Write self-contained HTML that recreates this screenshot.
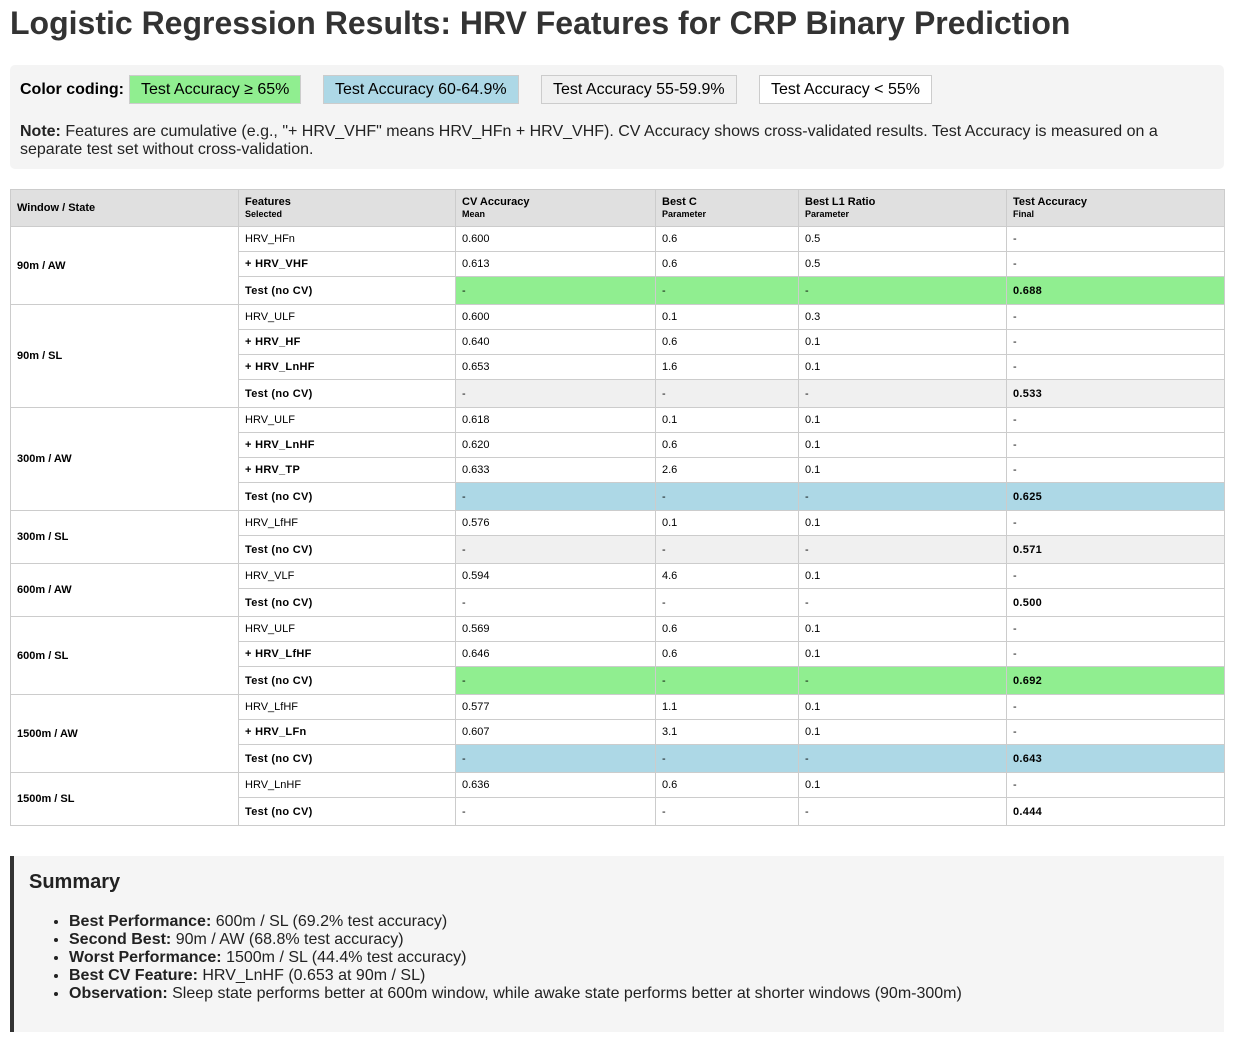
<!DOCTYPE html>
<html><head><meta charset="utf-8">
<style>
body{margin:0;background:#fff;font-family:"Liberation Sans",Arial,sans-serif;color:#000;width:1237px;height:1042px;overflow:hidden;position:relative}
h1{position:absolute;left:10px;top:5px;margin:0;font-size:32px;font-weight:bold;color:#333;white-space:nowrap}
.legend{position:absolute;left:10px;top:65px;width:1214px;height:104px;background:#f4f4f4;border-radius:5px}
.lg-label{position:absolute;left:10px;top:16px;font-size:16px;font-weight:bold}
.badge{position:absolute;top:10px;height:27px;line-height:27px;font-size:16px;padding:0 11px;border:1px solid #ccc;box-sizing:content-box}
.note{position:absolute;left:10px;top:58px;width:1180px;font-size:16px;line-height:18px;color:#222}
table{position:absolute;left:10px;top:189px;border-collapse:collapse;width:1214px;table-layout:fixed;font-size:11px}
td,th{border:1px solid #ccc;padding:0 6px;text-align:left;vertical-align:middle;overflow:hidden;white-space:nowrap}
th{background:#e0e0e0;height:36px;font-weight:bold;font-size:11px;line-height:13px}
th small{font-size:9px;display:block;line-height:11px}
tr.d td{height:24px}
tr.t td{height:27px}
td.win{font-weight:bold;background:#fff}
.tb{font-weight:900;letter-spacing:.3px}
.summary{position:absolute;left:10px;top:856px;width:1210px;height:176px;background:#f5f5f5;border-left:4px solid #333}
.summary h2{position:absolute;left:15px;top:15px;margin:0;font-size:20px;font-weight:bold;color:#222}
.summary ul{position:absolute;left:15px;top:57px;margin:0;padding-left:40px;font-size:16px;line-height:18px;color:#222}
</style></head><body>
<h1>Logistic Regression Results: HRV Features for CRP Binary Prediction</h1>
<div class="legend">
<div class="lg-label">Color coding:</div>
<div class="badge" style="left:119px;background:#90ee90">Test Accuracy ≥ 65%</div>
<div class="badge" style="left:313px;background:#add8e6">Test Accuracy 60-64.9%</div>
<div class="badge" style="left:531px;background:#f0f0f0">Test Accuracy 55-59.9%</div>
<div class="badge" style="left:749px;background:#fff">Test Accuracy &lt; 55%</div>
<div class="note"><b>Note:</b> Features are cumulative (e.g., "+ HRV_VHF" means HRV_HFn + HRV_VHF). CV Accuracy shows cross-validated results. Test Accuracy is measured on a separate test set without cross-validation.</div>
</div>
<table id="tbl">
<colgroup><col style="width:228px"><col style="width:217px"><col style="width:200px"><col style="width:143px"><col style="width:208px"><col style="width:218px"></colgroup>
<thead><tr>
<th>Window / State</th>
<th>Features<small>Selected</small></th>
<th>CV Accuracy<small>Mean</small></th>
<th>Best C<small>Parameter</small></th>
<th>Best L1 Ratio<small>Parameter</small></th>
<th>Test Accuracy<small>Final</small></th>
</tr></thead>
<tbody id="tb"></tbody>
</table>
<div class="summary">
<h2>Summary</h2>
<ul>
<li><b>Best Performance:</b> 600m / SL (69.2% test accuracy)</li>
<li><b>Second Best:</b> 90m / AW (68.8% test accuracy)</li>
<li><b>Worst Performance:</b> 1500m / SL (44.4% test accuracy)</li>
<li><b>Best CV Feature:</b> HRV_LnHF (0.653 at 90m / SL)</li>
<li><b>Observation:</b> Sleep state performs better at 600m window, while awake state performs better at shorter windows (90m-300m)</li>
</ul>
</div>
<script>
const groups=["90m / AW","90m / SL","300m / AW","300m / SL","600m / AW","600m / SL","1500m / AW","1500m / SL"];
const features=[["HRV_HFn","+ HRV_VHF"],["HRV_ULF","+ HRV_HF","+ HRV_LnHF"],["HRV_ULF","+ HRV_LnHF","+ HRV_TP"],["HRV_LfHF"],["HRV_VLF"],["HRV_ULF","+ HRV_LfHF"],["HRV_LfHF","+ HRV_LFn"],["HRV_LnHF"]];
const cvAcc=[["0.600","0.613"],["0.600","0.640","0.653"],["0.618","0.620","0.633"],["0.576"],["0.594"],["0.569","0.646"],["0.577","0.607"],["0.636"]];
const bestC=[["0.6","0.6"],["0.1","0.6","1.6"],["0.1","0.6","2.6"],["0.1"],["4.6"],["0.6","0.6"],["1.1","3.1"],["0.6"]];
const l1Ratio=[["0.5","0.5"],["0.3","0.1","0.1"],["0.1","0.1","0.1"],["0.1"],["0.1"],["0.1","0.1"],["0.1","0.1"],["0.1"]];
const testAcc=["0.688","0.533","0.625","0.571","0.500","0.692","0.643","0.444"];
const rowBg=["#90ee90","#f0f0f0","#add8e6","#f0f0f0","#fff","#90ee90","#add8e6","#fff"];
const tb=document.getElementById('tb');
function cell(tr,txt,name,cls){const td=document.createElement('td');td.textContent=txt;if(cls)td.className=cls;


tr.appendChild(td);return td;}
groups.forEach((g,gi)=>{
  const n=features[gi].length;
  features[gi].forEach((f,fi)=>{
    const tr=document.createElement('tr');tr.className='d';
    
    
    if(fi===0){const w=cell(tr,g,'window-label','win');w.rowSpan=n+1;}
    cell(tr,f,'feature-cell',f[0]==='+'?'tb':'');
    cell(tr,cvAcc[gi][fi],'cv-accuracy');
    cell(tr,bestC[gi][fi],'best-c');
    cell(tr,l1Ratio[gi][fi],'l1-ratio');
    cell(tr,'-','test-accuracy');
    tb.appendChild(tr);
  });
  const tr=document.createElement('tr');tr.className='t';
  
  
  cell(tr,'Test (no CV)','test-label','tb');
  const bg=rowBg[gi];
  cell(tr,'-','cv-accuracy').style.background=bg;
  cell(tr,'-','best-c').style.background=bg;
  cell(tr,'-','l1-ratio').style.background=bg;
  const t=cell(tr,testAcc[gi],'test-accuracy','tb');t.style.background=bg;
  tb.appendChild(tr);
});
</script>
</body></html>
